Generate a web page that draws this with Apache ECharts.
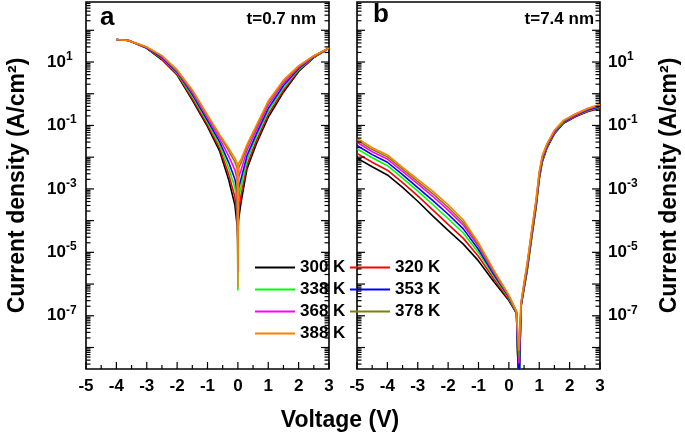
<!DOCTYPE html>
<html>
<head>
<meta charset="utf-8">
<script src="https://cdn.jsdelivr.net/npm/echarts@6/dist/echarts.min.js"></script>
<style>
  html, body { margin: 0; padding: 0; background: #fff; }
  #chart { width: 685px; height: 436px; }
</style>
</head>
<body>
<div id="chart"></div>
<script>
// legend entries, one per measurement temperature
const temps = ['300 K', '320 K', '338 K', '353 K', '368 K', '378 K', '388 K']
const colors = ['#000000', '#ff0000', '#00ff00', '#0000ff', '#ff00ff', '#808000', '#ff8000']

// panel a (t=0.7 nm): voltage (V) and log10 of current density (A/cm2)
const voltA = [-4.0, -3.6, -3.0, -2.5, -2.0, -1.5, -1.0, -0.6, -0.3, -0.1, -0.02, 0, 0.02, 0.1, 0.3, 0.6, 1.0, 1.5, 2.0, 2.5, 3.0]
const logA300 = [1.71, 1.68, 1.43, 1.07, 0.59, -0.20, -1.04, -1.81, -2.72, -3.50, -4.20, -4.50, -4.00, -3.45, -2.37, -1.60, -0.74, 0.05, 0.70, 1.14, 1.44]
const logA320 = [1.71, 1.68, 1.44, 1.09, 0.62, -0.15, -0.98, -1.72, -2.55, -3.25, -3.86, -4.80, -3.70, -3.22, -2.24, -1.50, -0.65, 0.11, 0.73, 1.15, 1.44]
const logA338 = [1.71, 1.68, 1.45, 1.12, 0.65, -0.08, -0.90, -1.62, -2.35, -2.96, -3.46, -6.20, -3.33, -2.94, -2.09, -1.38, -0.55, 0.19, 0.77, 1.16, 1.44]
const logA353 = [1.71, 1.68, 1.45, 1.14, 0.68, -0.02, -0.84, -1.52, -2.17, -2.69, -3.10, -5.00, -3.00, -2.70, -1.95, -1.28, -0.46, 0.26, 0.80, 1.17, 1.44]
const logA368 = [1.71, 1.68, 1.46, 1.17, 0.71, 0.04, -0.76, -1.42, -1.97, -2.40, -2.70, -5.60, -2.65, -2.42, -1.79, -1.16, -0.36, 0.33, 0.83, 1.18, 1.44]
const logA378 = [1.71, 1.68, 1.47, 1.19, 0.74, 0.09, -0.70, -1.33, -1.80, -2.15, -2.36, -5.30, -2.35, -2.19, -1.66, -1.06, -0.27, 0.40, 0.87, 1.19, 1.44]
const logA388 = [1.71, 1.68, 1.47, 1.20, 0.75, 0.12, -0.67, -1.29, -1.72, -2.03, -2.20, -6.10, -2.20, -2.08, -1.60, -1.01, -0.23, 0.43, 0.88, 1.20, 1.44]

// panel b (t=7.4 nm)
const voltB = [-5, -4.5, -4, -3.5, -3, -2.5, -2, -1.5, -1, -0.5, 0, 0.25, 0.33, 0.4, 0.5, 0.6, 0.75, 0.9, 1.0, 1.1, 1.25, 1.5, 1.8, 2.2, 2.6, 3.0]
const logB300 = [-2.03, -2.30, -2.56, -2.95, -3.39, -3.86, -4.31, -4.74, -5.27, -5.92, -6.52, -6.92, -9.5, -6.72, -6.15, -5.60, -4.55, -3.55, -2.70, -2.15, -1.72, -1.26, -0.93, -0.72, -0.56, -0.46]
const logB320 = [-1.88, -2.16, -2.41, -2.80, -3.22, -3.67, -4.12, -4.56, -5.13, -5.83, -6.48, -6.91, -9.5, -6.70, -6.12, -5.56, -4.51, -3.51, -2.66, -2.12, -1.70, -1.24, -0.92, -0.71, -0.55, -0.44]
const logB338 = [-1.74, -2.02, -2.27, -2.66, -3.07, -3.50, -3.94, -4.39, -5.01, -5.75, -6.44, -6.90, -9.5, -6.68, -6.09, -5.52, -4.47, -3.47, -2.62, -2.09, -1.68, -1.22, -0.90, -0.69, -0.53, -0.42]
const logB353 = [-1.63, -1.92, -2.16, -2.55, -2.96, -3.37, -3.80, -4.26, -4.91, -5.69, -6.41, -6.89, -9.5, -6.66, -6.06, -5.48, -4.43, -3.43, -2.58, -2.06, -1.66, -1.20, -0.89, -0.68, -0.51, -0.40]
const logB368 = [-1.53, -1.83, -2.06, -2.45, -2.84, -3.24, -3.67, -4.14, -4.82, -5.63, -6.39, -6.88, -8.5, -6.63, -6.02, -5.43, -4.38, -3.38, -2.53, -2.02, -1.63, -1.18, -0.87, -0.66, -0.49, -0.37]
const logB378 = [-1.46, -1.76, -1.99, -2.38, -2.77, -3.16, -3.58, -4.06, -4.76, -5.59, -6.37, -6.87, -8.3, -6.60, -5.98, -5.39, -4.34, -3.34, -2.49, -1.98, -1.60, -1.16, -0.85, -0.64, -0.47, -0.35]
const logB388 = [-1.40, -1.70, -1.93, -2.32, -2.70, -3.08, -3.50, -3.98, -4.70, -5.55, -6.35, -6.86, -8.1, -6.58, -5.95, -5.35, -4.30, -3.30, -2.45, -1.95, -1.58, -1.15, -0.84, -0.63, -0.46, -0.33]

// axis ticks
const xTicks = [-5, -4, -3, -2, -1, 0, 1, 2, 3]
const xMinorTicks = [-4.5, -3.5, -2.5, -1.5, -0.5, 0.5, 1.5, 2.5]
const majorExp = [-8, -7, -6, -5, -4, -3, -2, -1, 0, 1, 2]
const labelExp = [-7, -5, -3, -1, 1]
const minorMult = [2, 3, 4, 5, 6, 7, 8, 9]
const yMin = 2.1e-9
const yMax = 780

const seriesA = [logA300, logA320, logA338, logA353, logA368, logA378, logA388]
const seriesB = [logB300, logB320, logB338, logB353, logB368, logB378, logB388]

const font = '"Liberation Sans", Arial, sans-serif'
const labelVals = labelExp.map(e => Math.pow(10, e))

// tick marks: [x, y, kind]  kind 0 = y major, 1 = y minor, 2 = x major, 3 = x minor
const tickData = []
majorExp.forEach(e => tickData.push([-5, Math.pow(10, e), 0]))
for (let e = -9; e <= 2; e++) {
  minorMult.forEach(m => {
    const v = m * Math.pow(10, e)
    if (v > yMin && v < yMax) tickData.push([-5, v, 1])
  })
}
xTicks.forEach(x => tickData.push([x, 1, 2]))
xMinorTicks.forEach(x => tickData.push([x, 1, 3]))

const chart = echarts.init(document.getElementById('chart'))

const tickRender = (params, api) => {
  const kind = api.value(2)
  const cs = params.coordSys
  const p = api.coord([api.value(0), api.value(1)])
  const style = { stroke: '#000', lineWidth: 1.2 }
  if (kind < 2) {
    const len = kind === 0 ? 8 : 4.5
    return {
      type: 'group',
      children: [
        { type: 'line', shape: { x1: cs.x, y1: p[1], x2: cs.x + len, y2: p[1] }, style },
        { type: 'line', shape: { x1: cs.x + cs.width - len, y1: p[1], x2: cs.x + cs.width, y2: p[1] }, style }
      ]
    }
  }
  const len = kind === 2 ? 7 : 4
  const yb = cs.y + cs.height
  return { type: 'line', shape: { x1: p[0], y1: yb - len, x2: p[0], y2: yb }, style }
}

const makeY = (grid, pos, labels) => ({
  type: 'log',
  logBase: 10,
  gridIndex: grid,
  position: pos,
  min: yMin,
  max: yMax,
  axisLine: { show: false, onZero: false },
  splitLine: { show: false },
  minorTick: { show: false },
  axisTick: { show: false },
  axisLabel: {
    show: labels,
    customValues: labelVals,
    align: 'left',
    margin: pos === 'left' ? 39 : 8,
    formatter: v => '{b|10}{e|' + Math.round(Math.log10(v)) + '}',
    rich: {
      b: { fontSize: 17, fontWeight: 'bold', fontFamily: font, color: '#000' },
      e: { fontSize: 12, fontWeight: 'bold', fontFamily: font, color: '#000', padding: [0, 0, 11, 0] }
    }
  },
  name: 'Current density (A/cm²)',
  nameLocation: 'middle',
  nameGap: pos === 'left' ? 57 : 58,
  nameTextStyle: { fontSize: 23, fontWeight: 'bold', fontFamily: font, color: '#000' }
})

const makeX = grid => ({
  type: 'value',
  gridIndex: grid,
  min: -5,
  max: 3,
  interval: 1,
  axisLine: { show: false, onZero: false },
  splitLine: { show: false },
  axisTick: { show: false },
  axisLabel: {
    margin: 9,
    color: '#000',
    fontSize: 17,
    fontWeight: 'bold',
    fontFamily: font,
    customValues: xTicks
  }
})

const series = []
seriesA.forEach((arr, i) => {
  series.push({
    type: 'line', name: temps[i], xAxisIndex: 0, yAxisIndex: 0,
    symbol: 'none', color: colors[i],
    lineStyle: { width: 1.6, color: colors[i] },
    data: voltA.map((v, k) => [v, Math.pow(10, arr[k])])
  })
})
seriesB.forEach((arr, i) => {
  series.push({
    type: 'line', name: temps[i], xAxisIndex: 1, yAxisIndex: 1,
    symbol: 'none', color: colors[i],
    lineStyle: { width: 1.6, color: colors[i] },
    data: voltB.map((v, k) => [v, Math.pow(10, arr[k])])
  })
})
;[0, 1].forEach(g => {
  series.push({
    type: 'custom', xAxisIndex: g, yAxisIndex: g, silent: true, z: 5,
    renderItem: tickRender, data: tickData
  })
})

const legendBase = {
  orient: 'vertical',
  top: 259,
  padding: 0,
  icon: 'rect',
  itemWidth: 40,
  itemHeight: 2,
  itemGap: 5,
  textStyle: { fontSize: 17, fontWeight: 'bold', fontFamily: font, color: '#000' }
}

const option = {
  animation: false,
  backgroundColor: '#fff',
  grid: [
    { left: 86, top: 2, width: 243, height: 367, show: true, borderColor: '#000', borderWidth: 1.6 },
    { left: 357, top: 2, width: 243, height: 367, show: true, borderColor: '#000', borderWidth: 1.6 }
  ],
  xAxis: [makeX(0), makeX(1)],
  yAxis: [makeY(0, 'left', true), makeY(1, 'right', true)],
  legend: [
    Object.assign({ left: 255, data: [temps[0], temps[2], temps[4], temps[6]] }, legendBase),
    Object.assign({ left: 350, data: [temps[1], temps[3], temps[5]] }, legendBase)
  ],
  graphic: [
    { type: 'text', left: 100, top: 5, style: { text: 'a', font: 'bold 26px ' + font, fill: '#000' } },
    { type: 'text', left: 373, top: 2, style: { text: 'b', font: 'bold 26px ' + font, fill: '#000' } },
    { type: 'text', style: { text: 't=0.7 nm', x: 316, y: 19, textAlign: 'right', textVerticalAlign: 'middle', font: 'bold 17px ' + font, fill: '#000' } },
    { type: 'text', style: { text: 't=7.4 nm', x: 594, y: 19, textAlign: 'right', textVerticalAlign: 'middle', font: 'bold 17px ' + font, fill: '#000' } },
    { type: 'text', style: { text: 'Voltage (V)', x: 340, y: 421, textAlign: 'center', textVerticalAlign: 'middle', font: 'bold 23px ' + font, fill: '#000' } }
  ],
  series
}

chart.setOption(option)
</script>
</body>
</html>
